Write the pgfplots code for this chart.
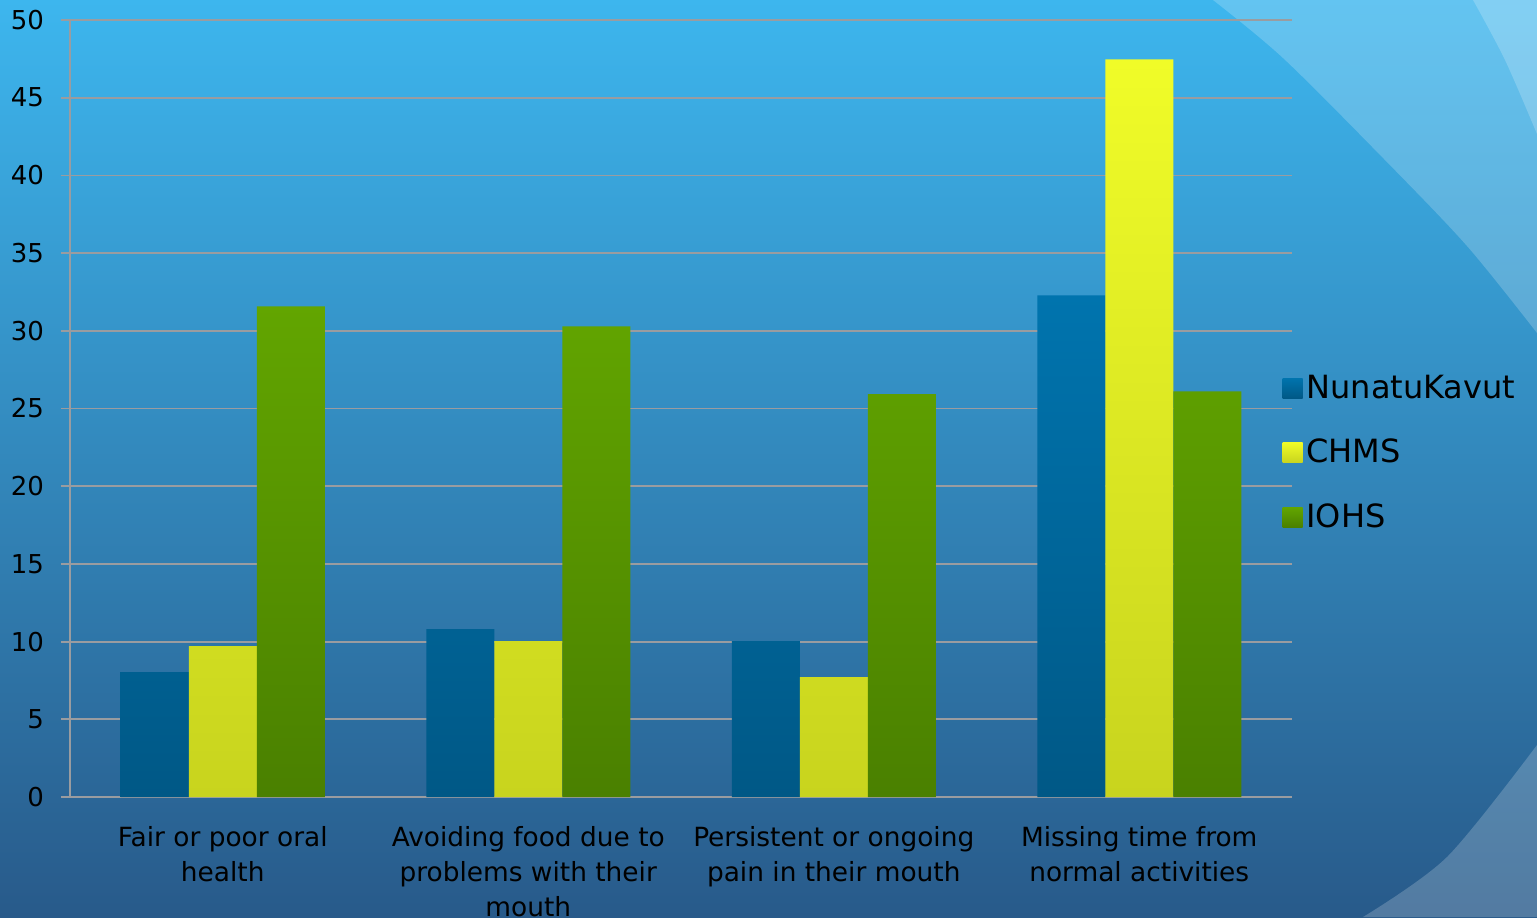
\documentclass[border=0pt]{standalone}
\usepackage{pgfplots}
\pgfplotsset{compat=1.18}
\usetikzlibrary{fadings}
\usepackage{fontspec}
\setmainfont{DejaVu Sans}
\definecolor{bgtop}{HTML}{3DB6EE}
\definecolor{bgmid}{HTML}{368CC6}
\definecolor{bgbot}{HTML}{285A8A}
\definecolor{nkTop}{HTML}{0074AE}
\definecolor{nkBot}{HTML}{005886}
\definecolor{chTop}{HTML}{F0FC28}
\definecolor{chBot}{HTML}{C8D41E}
\definecolor{ioTop}{HTML}{62A500}
\definecolor{ioBot}{HTML}{4A8000}
\definecolor{gridc}{HTML}{9A9CA0}
\definecolor{edgec}{HTML}{8A9090}
\pgfdeclarelayer{background}
\pgfsetlayers{background,main}
\begin{tikzfadingfrompicture}[name=leftedge]
\fill[transparent!100] (-50bp,-50bp) rectangle (50bp,50bp);
\shade[left color=transparent!25, right color=transparent!100] (-50bp,-50bp) rectangle (-37bp,50bp);
\end{tikzfadingfrompicture}
\tikzset{edge/.style={postaction={fill=edgec, path fading=leftedge, fit fading=true}}}
\begin{document}
\begin{tikzpicture}[x=1pt,y=1pt]
\begin{axis}[
  scale only axis, width=611pt, height=388.5pt,
  xmin=-0.5, xmax=3.5, ymin=0, ymax=50,
  ytick={0,5,...,50},
  xtick={0,1,2,3},
  xticklabels={{Fair or poor oral\\health},{Avoiding food due to\\problems with their\\mouth},{Persistent or ongoing\\pain in their mouth},{Missing time from\\normal activities}},
  axis x line*=bottom, axis y line*=left,
  axis line style={draw=gridc, line width=0.9pt},
  tick align=outside,
  major tick length=4.5pt,
  tick style={draw=gridc, line width=0.9pt},
  x tick style={draw=none},
  extra x ticks={-0.5,0.5,1.5,2.5,3.5},
  extra x tick labels={},
  extra x tick style={grid=none, tick style={draw=gridc, line width=0.9pt}},
  ymajorgrids,
  grid style={draw=gridc, line width=0.9pt},
  ybar=0pt, bar width=34pt,
  yticklabel style={font=\fontsize{13}{15}\selectfont, text=black, xshift=-5pt},
  xticklabel style={font=\fontsize{13.2}{17.5}\selectfont, align=center, text=black, anchor=north, yshift=-6.5pt},
  /pgf/number format/assume math mode=true,
  legend style={at={(0.987,0.443)}, anchor=west, draw=none, fill=none,
    font=\fontsize{16}{19}\selectfont, row sep=15pt, text=black},
  legend cell align=left,
  legend image code/.code={\path[#1,draw=none] (-2pt,-5pt) rectangle (8pt,5pt);},
]
\addplot[draw=none, top color=nkTop, bottom color=nkBot, edge] coordinates {(0,8.04) (1,10.8) (2,10.03) (3,32.28)};
\addplot[draw=none, top color=chTop, bottom color=chBot, edge] coordinates {(0,9.71) (1,10.03) (2,7.72) (3,47.46)};
\addplot[draw=none, top color=ioTop, bottom color=ioBot, edge] coordinates {(0,31.57) (1,30.29) (2,25.92) (3,26.1)};
\legend{NunatuKavut,CHMS,IOHS}
\coordinate (O) at (rel axis cs:0,0);
\end{axis}
\begin{pgfonlayer}{background}
\begin{scope}[shift={(O)}]
\begin{scope}[shift={(-35,-60)}]
\shade[top color=bgtop, middle color=bgmid, bottom color=bgbot] (0,0) rectangle (768.5,458.5);
\fill[white, opacity=0.2] plot[smooth] coordinates {(606.5,458.5) (641.5,429.5) (691.5,379.5) (733.5,335.5) (768.5,292)} -- (768.5,458.5) -- cycle;
\fill[white, opacity=0.2] plot[smooth] coordinates {(736.5,458.5) (752.5,428.5) (768.5,391.5)} -- (768.5,458.5) -- cycle;
\fill[white, opacity=0.2] plot[smooth] coordinates {(768.5,86) (723.5,30) (681.5,0)} -- (768.5,0) -- cycle;
\end{scope}
\end{scope}
\end{pgfonlayer}
\pgfresetboundingbox
\path[use as bounding box] (O) ++(-35,-60) rectangle ++(768.5,458.5);
\end{tikzpicture}
\end{document}
